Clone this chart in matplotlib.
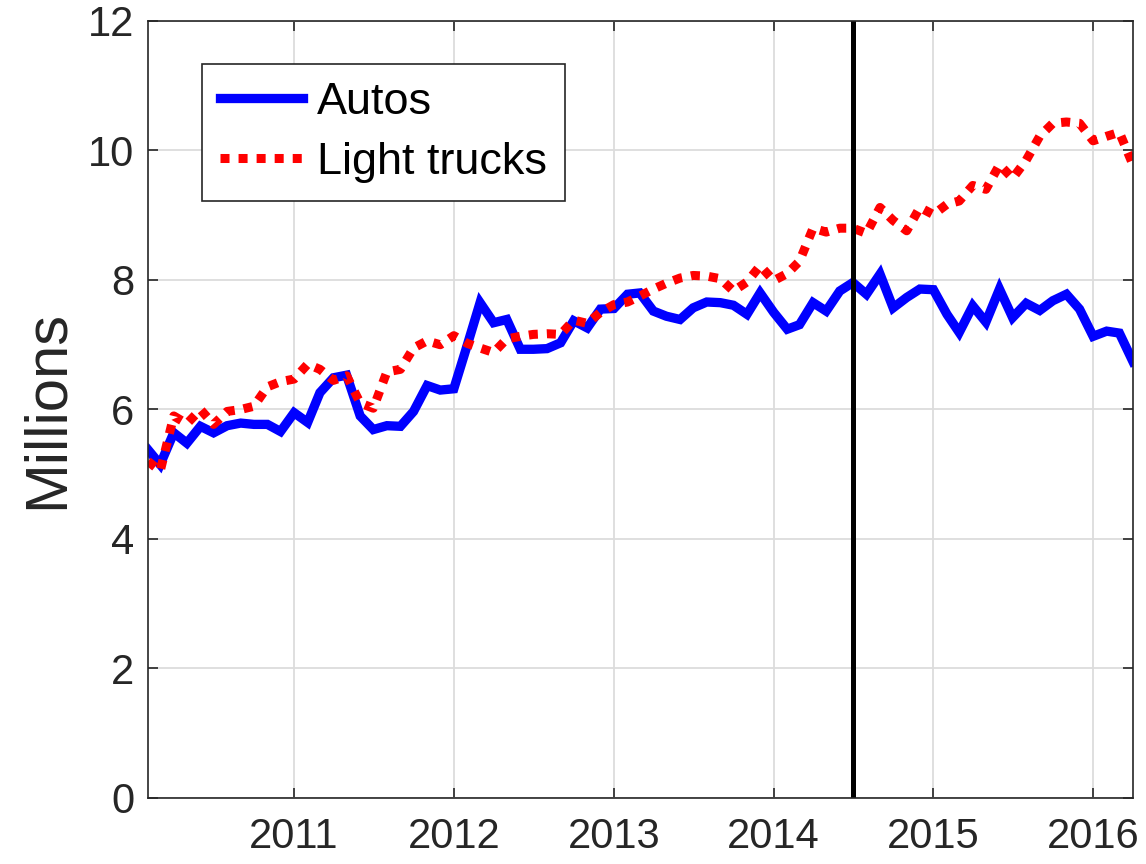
import pandas as pd
import matplotlib
matplotlib.use('Agg')
import matplotlib.pyplot as plt
import matplotlib.dates as mdates

# monthly sales, Feb 2010 .. Apr 2016 (millions, annual rate)
dates = pd.date_range('2010-02-01', '2016-04-01', freq='MS')

autos = [
    5.38, 5.15, 5.64, 5.48, 5.74, 5.64, 5.75, 5.79, 5.77, 5.77, 5.66,
    5.95, 5.80, 6.26, 6.49, 6.53, 5.90, 5.69, 5.75, 5.74, 5.97, 6.37, 6.30,
    6.32, 7.00, 7.65, 7.34, 7.39, 6.93, 6.93, 6.94, 7.03, 7.37, 7.26, 7.55,
    7.56, 7.78, 7.80, 7.52, 7.44, 7.39, 7.57, 7.66, 7.65, 7.61, 7.47, 7.80,
    7.50, 7.24, 7.31, 7.65, 7.52, 7.83, 7.96, 7.78, 8.09, 7.57, 7.73, 7.86,
    7.85, 7.47, 7.19, 7.60, 7.35, 7.86, 7.42, 7.64, 7.53, 7.68, 7.78, 7.55,
    7.13, 7.21, 7.18, 6.74,
]

light_trucks = [
    5.20, 5.05, 5.90, 5.78, 6.00, 5.77, 5.97, 6.00, 6.05, 6.35, 6.43,
    6.47, 6.70, 6.62, 6.45, 6.52, 6.10, 6.02, 6.58, 6.62, 6.95, 7.06, 7.00,
    7.14, 7.02, 6.95, 6.88, 7.09, 7.13, 7.16, 7.17, 7.16, 7.38, 7.33, 7.50,
    7.62, 7.66, 7.75, 7.86, 7.95, 8.03, 8.07, 8.06, 8.02, 7.83, 7.97, 8.22,
    7.99, 8.10, 8.29, 8.80, 8.74, 8.80, 8.80, 8.72, 9.12, 8.92, 8.76, 9.12,
    9.01, 9.17, 9.22, 9.46, 9.40, 9.78, 9.57, 9.85, 10.22, 10.42, 10.44, 10.42,
    10.15, 10.22, 10.28, 9.78,
]

event_date = pd.Timestamp('2014-07-01')
tick_years = [2011, 2012, 2013, 2014, 2015, 2016]

plt.rcParams['font.family'] = ['Liberation Sans', 'DejaVu Sans']

fig = plt.figure(figsize=(11.46, 8.64), dpi=100)
ax = fig.add_axes([0.1291, 0.0764, 0.8595, 0.8993])

ax.plot(dates, autos, color='#0000ff', lw=6.7, solid_joinstyle='miter', label='Autos')
ax.plot(dates, light_trucks, color='#ff0000', lw=6.5, linestyle=(0, (1, 1)),
        dash_capstyle='butt', label='Light trucks')
ax.axvline(event_date, color='black', lw=3.6)

ax.set_xlim(dates[0], dates[-1])
ax.set_ylim(0, 12)
ax.set_yticks(range(0, 13, 2))
ax.set_xticks([pd.Timestamp(f'{y}-01-01') for y in tick_years])
ax.xaxis.set_major_formatter(mdates.DateFormatter('%Y'))

ax.grid(True, color='#dcdcdc', lw=1.3)
ax.set_axisbelow(True)
for s in ax.spines.values():
    s.set_color('#262626')
    s.set_linewidth(1.2)
ax.tick_params(direction='in', length=7.5, width=1.2, color='#262626',
               labelsize=30, labelcolor='#262626', top=True, right=True)
ax.tick_params(axis='x', pad=14)
ax.tick_params(axis='y', pad=10)

ax.set_ylabel('Millions', fontsize=43, color='#262626')
ax.yaxis.set_label_coords(-0.074, 0.5)

leg = ax.legend(loc='upper left', bbox_to_anchor=(0.0548, 0.9447), borderaxespad=0,
                fontsize=32.4, handlelength=1.85, handletextpad=0.3, labelspacing=0.42,
                borderpad=0.4, fancybox=False, framealpha=1, edgecolor='#262626')
leg.get_frame().set_linewidth(1.2)

fig.savefig('out.png', dpi=100)
